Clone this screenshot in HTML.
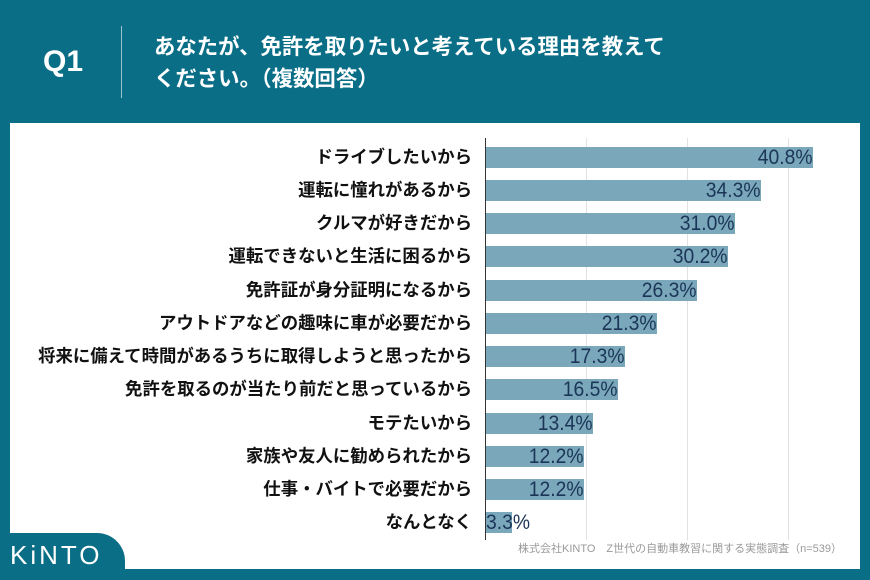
<!DOCTYPE html><html><head><meta charset="utf-8"><style>
body{margin:0;width:870px;height:580px;background:#0b6e87;position:relative;overflow:hidden;font-family:"Liberation Sans","Noto Sans CJK JP",sans-serif}
.panel{position:absolute;left:10px;top:123px;width:850px;height:446px;background:#fff}
.tab{position:absolute;left:0;top:533px;width:125px;height:47px;background:#0b6e87;border-top-right-radius:28px}
.q{position:absolute;left:43px;top:45px;color:#fff;font-size:30px;font-weight:bold}
.sep{position:absolute;left:121px;top:26px;width:1px;height:72px;background:#9fc4cf}
.t{position:absolute;left:154px;top:31px;color:#fff;font-size:21.4px;font-weight:bold;line-height:32px}
.g{position:absolute;top:138px;width:1px;height:402px;background:#e2e2e2}
.ax{position:absolute;left:485px;top:138px;width:1px;height:402px;background:#333}
.lab{position:absolute;right:398px;font-size:17.4px;font-weight:bold;color:#111;white-space:nowrap;line-height:21px}
.bar{position:absolute;left:486px;height:21px;background:#7aa8ba}
.v{position:absolute;right:0;top:-1px;font-size:21px;color:#1b3558;line-height:23px;transform:scaleX(0.92);transform-origin:right}
.src{position:absolute;left:518px;top:540px;font-size:11px;color:#999}
.logo{position:absolute;left:10px;top:540px;color:#fff;font-size:26px;letter-spacing:3px}
</style></head><body>
<div class="panel"></div><div class="tab"></div>
<div class="q">Q1</div><div class="sep"></div>
<div class="t">あなたが、免許を取りたいと考えている理由を教えて<br>ください。（複数回答）</div>
<div class="g" style="left:586px"></div><div class="g" style="left:687px"></div><div class="g" style="left:788px"></div>
<div class="ax"></div>
<div class="lab" style="top:147px">ドライブしたいから</div><div class="bar" style="top:147px;width:327px"><span class="v">40.8%</span></div>
<div class="lab" style="top:180px">運転に憧れがあるから</div><div class="bar" style="top:180px;width:275px"><span class="v">34.3%</span></div>
<div class="lab" style="top:213px">クルマが好きだから</div><div class="bar" style="top:213px;width:249px"><span class="v">31.0%</span></div>
<div class="lab" style="top:246px">運転できないと生活に困るから</div><div class="bar" style="top:246px;width:242px"><span class="v">30.2%</span></div>
<div class="lab" style="top:280px">免許証が身分証明になるから</div><div class="bar" style="top:280px;width:211px"><span class="v">26.3%</span></div>
<div class="lab" style="top:313px">アウトドアなどの趣味に車が必要だから</div><div class="bar" style="top:313px;width:171px"><span class="v">21.3%</span></div>
<div class="lab" style="top:346px">将来に備えて時間があるうちに取得しようと思ったから</div><div class="bar" style="top:346px;width:139px"><span class="v">17.3%</span></div>
<div class="lab" style="top:379px">免許を取るのが当たり前だと思っているから</div><div class="bar" style="top:379px;width:132px"><span class="v">16.5%</span></div>
<div class="lab" style="top:413px">モテたいから</div><div class="bar" style="top:413px;width:107px"><span class="v">13.4%</span></div>
<div class="lab" style="top:446px">家族や友人に勧められたから</div><div class="bar" style="top:446px;width:98px"><span class="v">12.2%</span></div>
<div class="lab" style="top:479px">仕事・バイトで必要だから</div><div class="bar" style="top:479px;width:98px"><span class="v">12.2%</span></div>
<div class="lab" style="top:512px">なんとなく</div><div class="bar" style="top:512px;width:26px"><span class="v" style="right:auto;left:0;transform-origin:left">3.3%</span></div>
<div class="src">株式会社KINTO　Z世代の自動車教習に関する実態調査（n=539）</div>
<div class="logo">KiNTO</div>
</body></html>
